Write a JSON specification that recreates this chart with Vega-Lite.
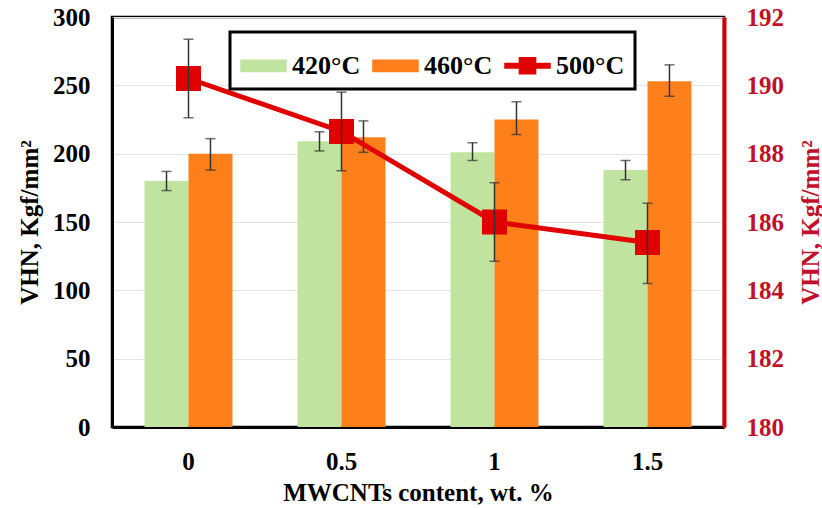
{
  "$schema": "https://vega.github.io/schema/vega-lite/v6.json",
  "width": 612,
  "height": 410,
  "autosize": "none",
  "padding": {"left": 112, "top": 17, "right": 98, "bottom": 81},
  "background": "white",
  "config": {
    "font": "Liberation Serif",
    "view": {"stroke": "black", "strokeWidth": 2.5},
    "axis": {
      "labelFont": "Liberation Serif",
      "titleFont": "Liberation Serif",
      "labelFontWeight": "bold",
      "titleFontWeight": "bold",
      "labelFontSize": 25,
      "titleFontSize": 25,
      "labelColor": "black",
      "titleColor": "black",
      "domainWidth": 3,
      "domainColor": "black",
      "ticks": false
    }
  },
  "data": {
    "values": [
      {"x": "0", "series": "420°C", "v": 180, "lo": 173, "hi": 187},
      {"x": "0", "series": "460°C", "v": 200, "lo": 188, "hi": 211},
      {"x": "0.5", "series": "420°C", "v": 209, "lo": 202, "hi": 216},
      {"x": "0.5", "series": "460°C", "v": 212, "lo": 201, "hi": 224},
      {"x": "1", "series": "420°C", "v": 201, "lo": 195, "hi": 208},
      {"x": "1", "series": "460°C", "v": 225, "lo": 214, "hi": 238},
      {"x": "1.5", "series": "420°C", "v": 188, "lo": 181, "hi": 195},
      {"x": "1.5", "series": "460°C", "v": 253, "lo": 242, "hi": 265},
      {"x": "0", "series": "500°C", "v": 190.2, "lo": 189.05, "hi": 191.35},
      {"x": "0.5", "series": "500°C", "v": 188.65, "lo": 187.5, "hi": 189.8},
      {"x": "1", "series": "500°C", "v": 186.0, "lo": 184.85, "hi": 187.15},
      {"x": "1.5", "series": "500°C", "v": 185.4, "lo": 184.2, "hi": 186.55}
    ]
  },
  "encoding": {
    "x": {
      "field": "x",
      "type": "nominal",
      "sort": ["0", "0.5", "1", "1.5"],
      "scale": {"paddingInner": 0, "paddingOuter": 0},
      "axis": {
        "title": "MWCNTs content, wt. %",
        "labelAngle": 0,
        "labelPadding": 22,
        "titlePadding": 6,
        "domainColor": "black"
      }
    }
  },
  "layer": [
    {
      "transform": [{"filter": "datum.series !== '500°C'"}],
      "encoding": {
        "y": {
          "field": "v",
          "type": "quantitative",
          "scale": {"domain": [0, 300], "nice": false},
          "axis": {
            "orient": "left",
            "title": "VHN,  Kgf/mm²",
            "values": [0, 50, 100, 150, 200, 250, 300],
            "grid": true,
            "gridColor": "#e4e4e4",
            "gridWidth": 1,
            "labelPadding": 22,
            "titlePadding": 10
          }
        },
        "xOffset": {
          "field": "series",
          "type": "nominal",
          "sort": ["420°C", "460°C"],
          "scale": {"paddingInner": 0, "paddingOuter": 0.74}
        }
      },
      "layer": [
        {
          "mark": {"type": "bar"},
          "encoding": {
            "color": {
              "field": "series",
              "type": "nominal",
              "scale": {
                "domain": ["420°C", "460°C", "500°C"],
                "range": ["#C0E4A0", "#FF7F1A", "#E00000"]
              },
              "legend": {
                "title": null,
                "orient": "none",
                "legendX": 118,
                "legendY": 15,
                "direction": "horizontal",
                "columns": 3,
                "columnPadding": 9,
                "padding": 10,
                "strokeColor": "black",
                "fillColor": "white",
                "symbolSize": 2025,
                "labelFont": "Liberation Serif",
                "labelFontWeight": "bold",
                "labelFontSize": 26,
                "labelColor": "black",
                "labelOffset": 5,
                "labelLimit": 200,
                "encode": {
                  "legend": {
                    "update": {"strokeWidth": {"value": 3}}
                  },
                  "symbols": {
                    "update": {
                      "shape": {"signal": "datum.value === '500°C' ? 'M-1,-0.1H-0.36V-0.36H0.36V-0.1H1V0.1H0.36V0.36H-0.36V0.1H-1Z' : 'M-1,-0.25H1V0.25H-1Z'"},
                      "fill": {"scale": "color", "field": "value"},
                      "stroke": {"value": "transparent"},
                      "opacity": {"value": 1}
                    }
                  }
                }
              }
            }
          }
        },
        {
          "mark": {"type": "rule", "color": "#333333", "strokeWidth": 1.5},
          "encoding": {"y": {"field": "lo", "type": "quantitative"}, "y2": {"field": "hi"}}
        },
        {
          "mark": {"type": "tick", "color": "#333333", "thickness": 1.5, "size": 10},
          "encoding": {"y": {"field": "lo", "type": "quantitative"}}
        },
        {
          "mark": {"type": "tick", "color": "#333333", "thickness": 1.5, "size": 10},
          "encoding": {"y": {"field": "hi", "type": "quantitative"}}
        }
      ]
    },
    {
      "transform": [{"filter": "datum.series === '500°C'"}],
      "encoding": {
        "y": {
          "field": "v",
          "type": "quantitative",
          "scale": {"domain": [180, 192], "nice": false},
          "axis": {
            "orient": "right",
            "title": "VHN,  Kgf/mm²",
            "titleAngle": 270,
            "titleX": 86,
            "titleY": 205,
            "titleAlign": "center",
            "titleBaseline": "middle",
            "values": [180, 182, 184, 186, 188, 190, 192],
            "grid": false,
            "domainColor": "#D00000",
            "domainWidth": 4,
            "labelColor": "#C0102A",
            "titleColor": "#C0102A",
            "labelPadding": 22
          }
        }
      },
      "layer": [
        {
          "mark": {"type": "line", "strokeWidth": 5},
          "encoding": {"color": {"field": "series", "type": "nominal"}}
        },
        {
          "mark": {"type": "point", "shape": "square", "filled": true, "size": 625, "opacity": 1},
          "encoding": {"color": {"field": "series", "type": "nominal"}}
        },
        {
          "mark": {"type": "rule", "color": "#333333", "strokeWidth": 1.5},
          "encoding": {"y": {"field": "lo", "type": "quantitative"}, "y2": {"field": "hi"}}
        },
        {
          "mark": {"type": "tick", "color": "#333333", "thickness": 1.5, "size": 10},
          "encoding": {"y": {"field": "lo", "type": "quantitative"}}
        },
        {
          "mark": {"type": "tick", "color": "#333333", "thickness": 1.5, "size": 10},
          "encoding": {"y": {"field": "hi", "type": "quantitative"}}
        }
      ]
    }
  ],
  "resolve": {"scale": {"y": "independent"}}
}
